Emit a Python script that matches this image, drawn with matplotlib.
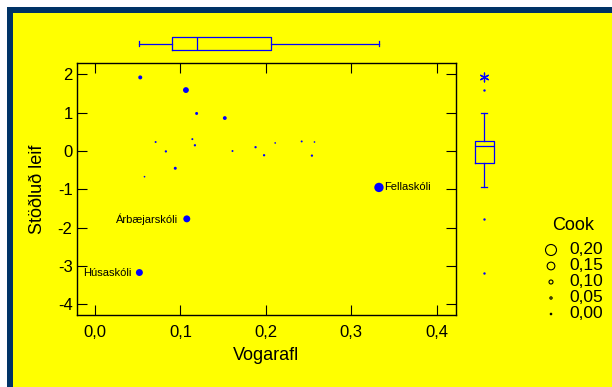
import numpy as np
import matplotlib
matplotlib.use("Agg")
import matplotlib.pyplot as plt
from matplotlib.patches import Rectangle

plt.rcParams['font.family'] = ['Liberation Sans', 'DejaVu Sans']

# ---- data ----
vogarafl = [0.053, 0.1065, 0.119, 0.152, 0.071, 0.083, 0.114, 0.117, 0.094, 0.058,
            0.161, 0.188, 0.198, 0.211, 0.242, 0.257, 0.254, 0.3325, 0.1075, 0.052]
leif = [1.92, 1.59, 0.98, 0.86, 0.235, -0.01, 0.31, 0.15, -0.45, -0.67,
        0.0, 0.10, -0.11, 0.21, 0.25, 0.235, -0.12, -0.95, -1.77, -3.17]
cook = [0.10, 0.125, 0.07, 0.095, 0.03, 0.05, 0.03, 0.05, 0.07, 0.01,
        0.03, 0.05, 0.05, 0.01, 0.03, 0.01, 0.05, 0.175, 0.14, 0.14]
labels = {17: 'Fellaskóli', 18: 'Árbæjarskóli', 19: 'Húsaskóli'}

x_ticks = [0.0, 0.1, 0.2, 0.3, 0.4]
x_ticklabels = ['0,0', '0,1', '0,2', '0,3', '0,4']
y_ticks = [2, 1, 0, -1, -2, -3, -4]
y_ticklabels = ['2', '1', '0', '-1', '-2', '-3', '-4']

# boxplot summaries
x_box = dict(med=0.1198, q1=0.0898, q3=0.2064, whislo=0.052, whishi=0.3325, fliers=[])
y_box = dict(med=0.12, q1=-0.305, q3=0.27, whislo=-0.95, whishi=0.98, fliers=[])
y_outliers = [1.59, -1.77, -3.17]
y_extreme = [1.92]

legend_cook = [0.20, 0.15, 0.10, 0.05, 0.00]
legend_labels = ['0,20', '0,15', '0,10', '0,05', '0,00']

# marker diameter (px) as a function of Cook's distance (style mapping)
_c_key = [0.0, 0.05, 0.10, 0.15, 0.20]
_d_key = [1.5, 2.3, 4.0, 7.7, 11.0]
def msize(c):
    d = np.interp(c, _c_key, _d_key) * 0.72
    return d ** 2

BLUE = '#0000ff'
YELLOW = '#ffff00'
NAVY = '#003366'

W, H = 612, 387
fig = plt.figure(figsize=(W / 100, H / 100), dpi=100)
fig.patch.set_facecolor('white')
fig.add_artist(Rectangle((7 / W, 0), 1, (H - 7) / H, transform=fig.transFigure,
                         facecolor=NAVY, edgecolor='none', zorder=-10))
fig.add_artist(Rectangle((13 / W, 0), 1, (H - 13) / H, transform=fig.transFigure,
                         facecolor=YELLOW, edgecolor='none', zorder=-9))

def px_axes(x0, y0, x1, y1):
    return fig.add_axes([x0 / W, 1 - y1 / H, (x1 - x0) / W, (y1 - y0) / H])

# main scatter
ax = px_axes(76.7, 62.7, 456, 315.3)
ax.set_facecolor('none')
ax.scatter(vogarafl, leif, s=[msize(c) for c in cook], color=BLUE, linewidths=0, zorder=3)
for i, name in labels.items():
    if name == 'Fellaskóli':
        ax.annotate(name, (vogarafl[i], leif[i]), xytext=(4, 0), textcoords='offset points',
                    ha='left', va='center', fontsize=8)
    else:
        ax.annotate(name, (vogarafl[i], leif[i]), xytext=(-6, 0), textcoords='offset points',
                    ha='right', va='center', fontsize=8)
ax.set_xlim(-0.0214, 0.4227)
ax.set_ylim(-4.286, 2.304)
ax.set_xticks(x_ticks)
ax.set_xticklabels(x_ticklabels)
ax.set_yticks(y_ticks)
ax.set_yticklabels(y_ticklabels)
ax.tick_params(direction='in', top=True, right=True, length=7, width=0.8,
               labelsize=12, colors='black')
ax.tick_params(axis='x', pad=7)
ax.tick_params(axis='y', pad=3)
for sp in ax.spines.values():
    sp.set_linewidth(1.0)
ax.set_xlabel('Vogarafl', fontsize=13)
ax.set_ylabel('Stöðluð leif', fontsize=13)
ax.xaxis.set_label_coords(0.5, -0.125)
ax.yaxis.set_label_coords(-0.082, 0.5)

# top boxplot (Vogarafl)
axt = px_axes(76.7, 30, 456, 57)
axt.set_facecolor('none')
axt.bxp([x_box], positions=[0.5], widths=0.5, vert=False, showfliers=False,
        boxprops=dict(color=BLUE, linewidth=0.9),
        whiskerprops=dict(color=BLUE, linewidth=0.9),
        capprops=dict(color=BLUE, linewidth=0.9),
        medianprops=dict(color=BLUE, linewidth=0.9), capwidths=0.15)
axt.set_xlim(ax.get_xlim())
axt.set_ylim(0, 1)
axt.axis('off')

# right boxplot (Stöðluð leif)
axr = px_axes(465, 62.7, 503, 315.3)
axr.set_facecolor('none')
axr.bxp([y_box], positions=[0.5], widths=0.5, showfliers=False,
        boxprops=dict(color=BLUE, linewidth=0.9),
        whiskerprops=dict(color=BLUE, linewidth=0.9),
        capprops=dict(color=BLUE, linewidth=0.9),
        medianprops=dict(color=BLUE, linewidth=0.9), capwidths=0.15)
axr.scatter([0.5] * len(y_outliers), y_outliers, s=3, color=BLUE, linewidths=0)
axr.scatter([0.5] * len(y_extreme), y_extreme, s=40, color=BLUE, marker=(6, 2, 0), linewidths=0.9)
axr.set_ylim(ax.get_ylim())
axr.set_xlim(0, 1)
axr.axis('off')

# Cook legend
axl = px_axes(530, 210, 612, 325)
axl.set_facecolor('none')
axl.set_xlim(530, 612)
axl.set_ylim(325, 210)
axl.axis('off')
axl.text(573, 225, 'Cook', ha='center', va='center', fontsize=13)
rows = 250 + 16 * np.arange(len(legend_cook))
axl.scatter([551] * len(legend_cook), rows, s=[msize(c) for c in legend_cook],
            facecolors='none', edgecolors='black', linewidths=0.8)
for r, lab in zip(rows, legend_labels):
    axl.text(569, r, lab, ha='left', va='center', fontsize=12.5)

fig.savefig('out.png', dpi=100)
